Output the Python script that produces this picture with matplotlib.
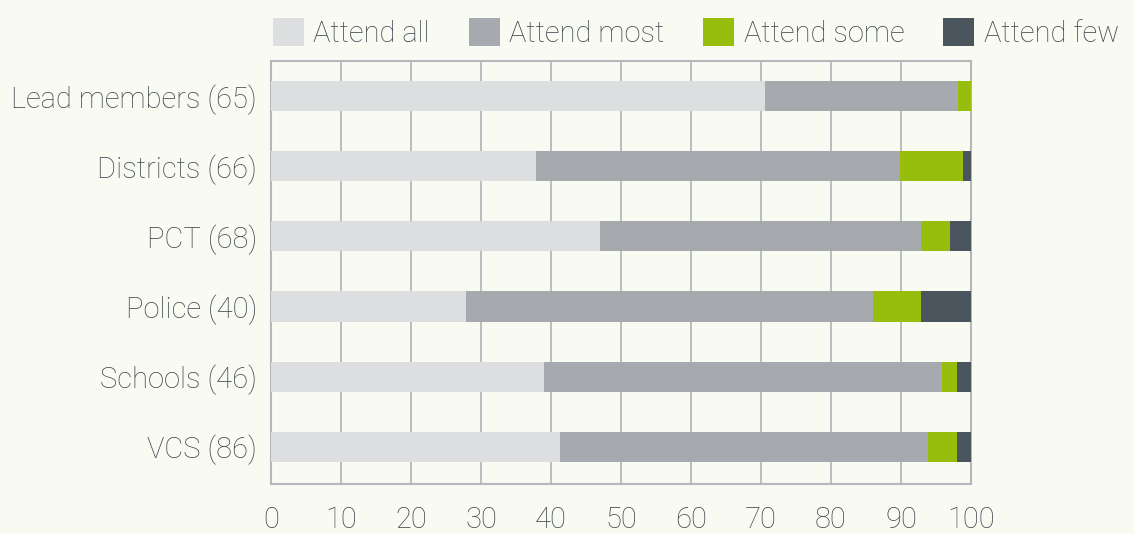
import matplotlib
matplotlib.use("Agg")
import matplotlib.pyplot as plt
from matplotlib.patches import Patch
import numpy as np

categories = ["Lead members (65)", "Districts (66)", "PCT (68)", "Police (40)", "Schools (46)", "VCS (86)"]
series_names = ["Attend all", "Attend most", "Attend some", "Attend few"]
attend_all = [70.6, 37.9, 47.0, 27.9, 39.0, 41.3]
attend_most = [27.6, 51.9, 45.9, 58.1, 56.9, 52.6]
attend_some = [1.8, 9.0, 4.1, 6.9, 2.1, 4.1]
attend_few = [0.0, 1.2, 3.0, 7.1, 2.0, 2.0]
xticks = [0, 10, 20, 30, 40, 50, 60, 70, 80, 90, 100]

colors = ["#dcdee0", "#a6aaae", "#97bd0d", "#4b555e"]
bg = "#f9faf2"
text_color = "#3f4850"
grid_color = "#b4b8bb"

plt.rcParams['font.family'] = ['Roboto', 'DejaVu Sans']
plt.rcParams['font.weight'] = 'light'
FS = 21

fig = plt.figure(figsize=(11.34, 5.34), dpi=100, facecolor=bg)
ax = fig.add_axes([271/1134, 1-484/534, 700/1134, 423/534])
ax.set_facecolor(bg)

y = np.arange(len(categories))
left = np.zeros(len(categories))
for vals, c, name in zip([attend_all, attend_most, attend_some, attend_few], colors, series_names):
    ax.barh(y, vals, left=left, height=0.43, color=c, label=name, zorder=3)
    left = left + np.array(vals)

ax.set_ylim(len(categories) - 0.5 + 0.03, -0.5)
ax.set_xlim(0, 100)
ax.set_xticks(xticks)
ax.set_xticklabels([str(t) for t in xticks])
ax.set_yticks(y)
ax.set_yticklabels(categories)
ax.tick_params(axis='both', length=0, labelsize=FS, colors=text_color)
ax.tick_params(axis='x', pad=16)
ax.tick_params(axis='y', pad=10)
ax.grid(axis='x', color=grid_color, linewidth=1.3, zorder=0)
for s in ax.spines.values():
    s.set_color(grid_color)
    s.set_linewidth(1.5)

handles = [Patch(facecolor=c, edgecolor='none') for c in colors]
fig.legend(handles, series_names, loc='upper left', bbox_to_anchor=(261/1134, 1-6/534),
           ncol=4, frameon=False, fontsize=FS, handlelength=1.07, handleheight=1.12,
           handletextpad=0.32, columnspacing=1.33, labelcolor=text_color, borderaxespad=0)

fig.savefig("out.png", dpi=100, facecolor=bg)
